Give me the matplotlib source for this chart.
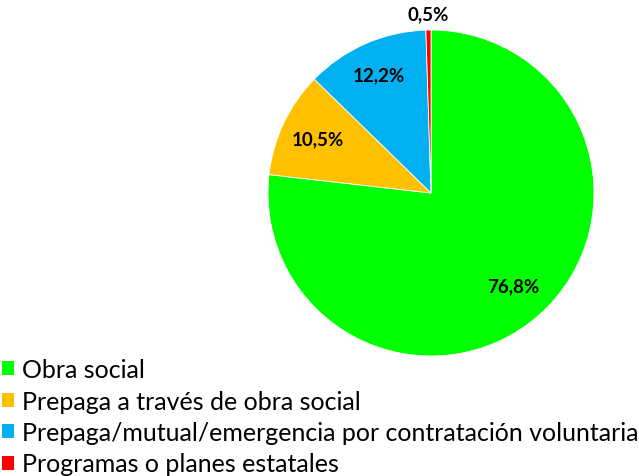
import matplotlib
matplotlib.use("Agg")
import matplotlib.pyplot as plt
from matplotlib.patches import Patch
import numpy as np

categories = ["Obra social", "Prepaga a través de obra social",
              "Prepaga/mutual/emergencia por contratación voluntaria",
              "Programas o planes estatales"]
values = [76.8, 10.5, 12.2, 0.5]
labels = ["76,8%", "10,5%", "12,2%", "0,5%"]
colors = ["#00FF00", "#FFC000", "#00B0F0", "#FF0000"]

plt.rcParams['font.family'] = ['Lato', 'DejaVu Sans']

W, H = 639, 477
fig = plt.figure(figsize=(W / 100, H / 100), dpi=100)
cx, cy, r = 431, 194, 163
ax = fig.add_axes([(cx - r) / W, (H - cy - r) / H, 2 * r / W, 2 * r / H])
wedges, _ = ax.pie(values, colors=colors, startangle=90, counterclock=False,
                   radius=1, wedgeprops=dict(edgecolor="white", linewidth=0.6))
ax.set_xlim(-1, 1)
ax.set_ylim(-1, 1)
ax.set_aspect("equal")
ax.axis("off")

dists = [0.76, 0.77, 0.79, 1.10]
for w, lab, d in zip(wedges, labels, dists):
    ang = np.deg2rad((w.theta1 + w.theta2) / 2)
    ax.text(d * np.cos(ang), d * np.sin(ang), lab, ha="center", va="center",
            fontsize=13.5, fontweight="bold", color="black", clip_on=False)

handles = [Patch(facecolor=c, edgecolor="none") for c in colors]
fig.legend(handles, categories, loc="upper left", bbox_to_anchor=(0.003, 1 - 359 / H),
           frameon=False, fontsize=18, handlelength=0.5, handleheight=0.5,
           handletextpad=0.3, labelspacing=0.34, borderaxespad=0, borderpad=0)

fig.savefig("out.png", dpi=100)
